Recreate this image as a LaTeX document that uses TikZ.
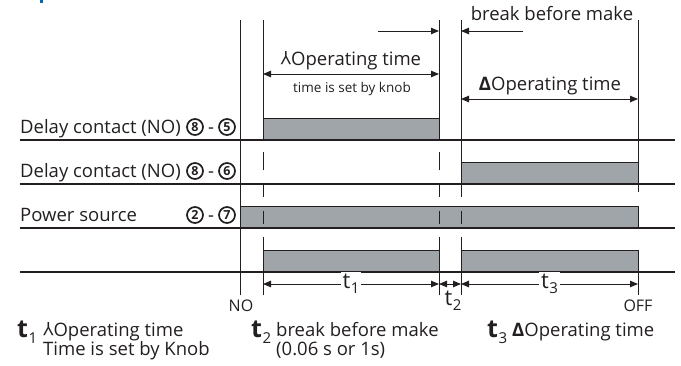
\documentclass[tikz,border=0pt]{standalone}
\usepackage{fontspec}
\setmainfont{Open Sans}
\usetikzlibrary{arrows.meta,positioning,calc}
\definecolor{barfill}{RGB}{160,165,170}
\definecolor{ink}{RGB}{35,31,32}
\definecolor{titleblue}{RGB}{0,104,180}
\newcommand{\wye}{\rotatebox[origin=c]{180}{Y}}
\newcommand{\fsz}[1]{\fontsize{#1}{#1}\selectfont}
% t with a low index: size of index, drop, index
\newcommand{\tidx}[3]{t\kern0.5pt\raisebox{-#2}{\fsz{#1}#3}}

\begin{document}
\begin{tikzpicture}[x=1pt, y=-1pt, >={Triangle[length=8pt,width=6.5pt]},
    font=\fsz{18.5},
    base/.style={ink, line width=1.7pt},
    bar/.style={draw=ink, fill=barfill, line width=0.9pt},
    vline/.style={ink, line width=0.9pt},
    dim/.style={ink, line width=0.9pt, <->},
    lbl/.style={inner sep=0pt, text=ink},
    cnum/.style={circle, draw=ink, line width=1.7pt, minimum size=16pt,
                 inner sep=0pt, text=ink, font=\bfseries\fsz{12.5}}]
  \useasboundingbox (0,0) rectangle (681,365);
  \fill[titleblue] (40,0) rectangle (43,3);

  % columns
  \foreach \name/\x in {no/240, a/263, b/439, c/461, off/638}{
    \coordinate (\name-top) at (\x,20);
  }

  % bars
  \draw[bar] (263,118) rectangle (439,140);
  \draw[bar] (461,162) rectangle (638,184);
  \draw[bar] (240,206) rectangle (638,228);
  \foreach \x/\w in {263/439, 461/638}{
    \draw[bar] (\x,250) rectangle (\w,272);
  }

  % base lines
  \foreach \y in {140,184,228,272}{
    \draw[base] (20,\y) -- (675,\y);
  }

  % vertical lines
  \draw[vline] (240,20) -- (240,295);
  \foreach \x in {263,439}{
    \draw[vline] (\x,20) -- (\x,140);
    \foreach \s/\e in {152/170, 184/197, 211/224}{
      \draw[vline] (\x,\s) -- (\x,\e);
    }
    \draw[vline] (\x,237) -- (\x,295);
  }
  \draw[vline] (461,20) -- (461,197);
  \draw[vline] (461,211) -- (461,224);
  \draw[vline] (461,237) -- (461,295);
  \draw[vline] (638,20) -- (638,192);
  \draw[vline] (638,272) -- (638,295);

  % row labels
  \foreach \r/\y/\txt/\p/\q in {1/133/Delay contact (NO)/8/5, 2/177/Delay contact (NO)/8/6, 3/221/Power source/2/7}{
    \node[lbl, anchor=base west] (row-\r) at (20,\y) {\txt};
    \node[cnum] (pa-\r) at (195,\y-6) {\p};
    \node[cnum] (pb-\r) at (227,\y-6) {\q};
    \node[lbl, anchor=base] (dash-\r) at (211,\y) {-};
  }

  % operating time (star)
  \coordinate (wye-y) at (0,74);
  \draw[dim] (a-top |- wye-y) -- (b-top |- wye-y);
  \node[lbl, anchor=base] (wye-txt) at (351,65) {\wye Operating time};
  \node[lbl, anchor=base, font=\fsz{13.5}] (knob-txt) at (352,92) {time is set by knob};

  % break before make
  \coordinate (bbm-l) at (378,31);
  \coordinate (bbm-r) at (523,31);
  \draw[vline, ->] (bbm-l) -- (b-top |- bbm-l);
  \draw[vline, ->] (bbm-r) -- (c-top |- bbm-r);
  \node[lbl, anchor=base] (bbm-txt) at (552,20) {break before make};

  % operating time (delta)
  \coordinate (delta-y) at (0,99);
  \draw[dim] (c-top |- delta-y) -- (off-top |- delta-y);
  \node[lbl, anchor=base] (delta-txt) at (550,90) {{\bfseries Δ}Operating time};

  % time axis
  \coordinate (axis-y) at (0,284);
  \draw[dim] (a-top |- axis-y) -- node[fill=white, inner sep=2pt, text=ink, font=\fsz{22}] (t1) {\tidx{15}{5pt}{1}} (b-top |- axis-y);
  \draw[dim] (b-top |- axis-y) -- (c-top |- axis-y);
  \draw[dim] (c-top |- axis-y) -- node[fill=white, inner sep=2pt, text=ink, font=\fsz{22}] (t3) {\tidx{15}{5pt}{3}} (off-top |- axis-y);
  \node[lbl, font=\fsz{22}] (t2) at (453,301) {\tidx{15}{5pt}{2}};
  \node[lbl, font=\fsz{16}] (no-txt) at (241,306) {NO};
  \node[lbl, font=\fsz{16}] (off-txt) at (638,306) {OFF};

  % legend
  \foreach \x/\i in {17/1, 251/2, 487/3}{
    \node[lbl, anchor=base west, font=\bfseries\fsz{25}] (key-\i) at (\x,337) {\tidx{15}{6pt}{\mdseries\i}};
  }
  \node[lbl, anchor=base west] (key1-a) at (43,336) {\wye Operating time};
  \node[lbl, anchor=base west] (key1-b) at (43,355) {Time is set by Knob};
  \node[lbl, anchor=base west] (key2-a) at (276,336) {break before make};
  \node[lbl, anchor=base west] (key2-b) at (276,355) {(0.06 s or 1s)};
  \node[lbl, anchor=base west] (key3-a) at (512,336) {{\bfseries Δ}Operating time};
\end{tikzpicture}
\end{document}
